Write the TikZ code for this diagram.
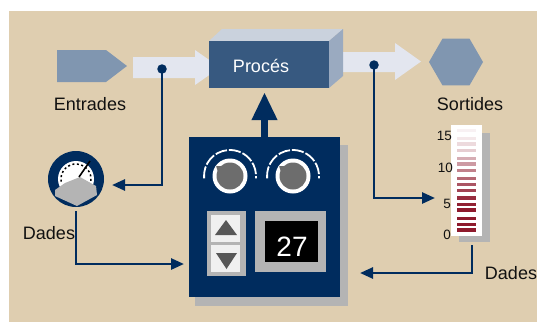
\documentclass[tikz,border=0pt]{standalone}
\usepackage{fontspec}
\setmainfont{Liberation Sans}
\usetikzlibrary{arrows.meta,shapes.geometric}
\definecolor{beige}{HTML}{DFCEB0}
\definecolor{slate}{HTML}{8096B0}
\definecolor{pale}{HTML}{E3E6EF}
\definecolor{procfront}{HTML}{375980}
\definecolor{proctop}{HTML}{CAD2DD}
\definecolor{procside}{HTML}{9AAAC0}
\definecolor{navy}{HTML}{002C5E}
\definecolor{panelgrey}{HTML}{B4B4B4}
\definecolor{knobgrey}{HTML}{6D6D6D}
\definecolor{keyface}{HTML}{F0F0F0}
\definecolor{keymark}{HTML}{575757}
\definecolor{barred}{HTML}{8E1A2D}
\definecolor{labelc}{HTML}{111111}
\begin{document}
\begin{tikzpicture}[x=1pt,y=-1pt,
  conn/.style={draw=navy,line width=2.6pt,-{Triangle[length=13pt,width=11pt]}},
  dot/.style={circle,fill=navy,inner sep=0pt,minimum size=9.5pt},
  lbl/.style={font=\fontsize{18}{18}\selectfont,text=labelc,inner sep=0pt,anchor=base},
  scalenum/.style={font=\fontsize{13.5}{13.5}\selectfont,text=labelc,inner sep=0pt,anchor=base east},
  box/.style={rectangle,inner sep=0pt}]
\useasboundingbox (0,0) rectangle (537,322);
% background
\fill[beige] (9,11) rectangle (537,322);

% input shape
\fill[slate] (57,50) -- (106,50) -- (127,66) -- (106,82) -- (57,82) -- cycle;
% flow arrows into and out of the process
\fill[pale] (133,57) -- (195,57) -- (195,50) -- (220,67.5) -- (195,85) -- (195,78) -- (133,78) -- cycle;
\fill[pale] (329,52) -- (395,52) -- (395,43) -- (421,61.5) -- (395,80) -- (395,72) -- (329,72) -- cycle;

% process block
\fill[proctop] (209,41) -- (222,29) -- (343,29) -- (329,41) -- cycle;
\fill[procside] (329,41) -- (343,29) -- (343,76) -- (329,88) -- cycle;
\node[box,fill=procfront,minimum width=120pt,minimum height=47pt] (proc) at (269,64.5) {};
\node[lbl,text=white] (proctext) at (261,72) {Procés};

% output shape
\node[regular polygon,regular polygon sides=6,fill=slate,minimum size=54pt,inner sep=0pt] (hex) at (456,62) {};

\node[lbl] (entr) at (90,110) {Entrades};
\node[lbl] (sort) at (470,110) {Sortides};

% control panel
\fill[panelgrey] (195,145) rectangle (348,306);
\node[box,fill=navy,minimum width=151pt,minimum height=160pt] (panel) at (264.5,217) {};
\draw[navy,line width=7pt,shorten >=4pt,-{Triangle[length=28pt,width=24pt]}] (panel.north) -- (panel.north |- proc.south);

% knobs
\foreach \cx in {230,293}{
  \begin{scope}[shift={(\cx,176)}]
    \draw[white,line width=1.8pt,dash pattern=on 12pt off 2pt] (-185:26) arc[start angle=-185,end angle=5,radius=26];
    \fill[white] (0,0) circle[radius=17.5];
    \fill[knobgrey] (0,0) circle[radius=13.5];
    \fill[knobgrey] (-145:17) -- (-125:12) -- (-165:12) -- cycle;
  \end{scope}
}

% up/down keys
\node[box,fill=panelgrey,minimum width=39pt,minimum height=65pt] (keys) at (226.5,243.5) {};
\node[box,fill=keyface,minimum width=29pt,minimum height=27pt] (keyup) at (225.5,228.5) {};
\node[box,fill=keyface,minimum width=29pt,minimum height=27pt] (keydown) at (225.5,258.5) {};
\fill[keymark] (215,235) -- (237,235) -- (226,220) -- cycle;
\fill[keymark] (216,253) -- (237,253) -- (226.5,269) -- cycle;

% numeric display
\node[box,fill=panelgrey,minimum width=71pt,minimum height=61pt] (dispframe) at (290.5,241.5) {};
\node[box,fill=black,minimum width=53pt,minimum height=41pt] (disp) at (291.5,241.5) {};
\node[font=\fontsize{28}{28}\selectfont,text=white,inner sep=0pt,anchor=base] (val) at (292,256) {27};

% dial gauge
\node[circle,fill=navy,minimum size=56pt,inner sep=0pt] (gauge) at (76,179) {};
\fill[white] (76,179) circle[radius=18];
\begin{scope}[shift={(76,179)}]
  \draw[black,line width=1.5pt,dash pattern=on 2pt off 2.5pt] (-190:15) arc[start angle=-190,end angle=10,radius=15];
\end{scope}
\fill[panelgrey] (55,190) -- (65,183) -- (80,177) -- (96,186) -- (97,195) -- (77,206) -- (55,196) -- cycle;
\draw[black,line width=1.6pt] (79,177) -- (90,161);
\node[lbl] (dadesL) at (49,239) {Dades};

% bar scale
\fill[panelgrey] (459,133) rectangle (490,242);
\node[box,fill=white,minimum width=31pt,minimum height=111pt] (bar) at (466.5,180.5) {};
\foreach \yy/\pp in {130.3/6,138.3/10,144/16,150.3/22,158.3/36,164/44,170.7/55,178.3/66,184.3/74,190.3/82,198/92,204.3/97,210/100,218.3/100,224.3/100,230/100}{
  \fill[barred!\pp!white] (457,\yy-1.6) rectangle (476,\yy+1.6);
}
\node[scalenum] (s15) at (452,140) {15};
\node[scalenum] (s10) at (453,172) {10};
\node[scalenum] (s5) at (451,208) {5};
\node[scalenum] (s0) at (451,239) {0};
\node[lbl] (dadesR) at (511,279) {Dades};

% data connectors
\node[dot] (tapin) at (162,69) {};
\node[dot] (tapout) at (374,65) {};
\coordinate (gaugein) at (112,185);
\coordinate (gaugeout) at (76,211);
\coordinate (panelinL) at (184,264);
\coordinate (barin) at (435,198);
\coordinate (barout) at (472,245);
\coordinate (panelinR) at (360,273);
\draw[conn] (tapin.center) |- (gaugein);
\draw[conn] (gaugeout) |- (panelinL);
\draw[conn] (tapout.center) |- (barin);
\draw[conn] (barout) |- (panelinR);
\end{tikzpicture}
\end{document}
